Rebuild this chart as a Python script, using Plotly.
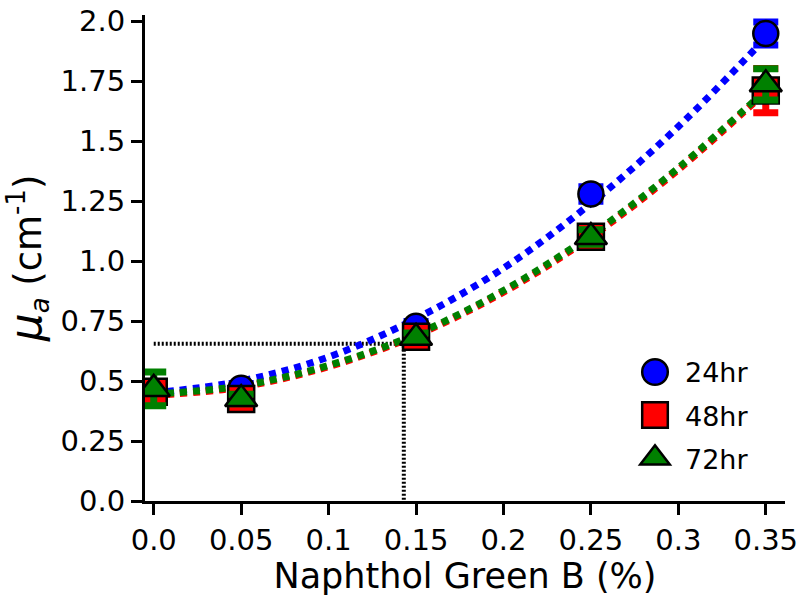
import plotly.graph_objects as go

# ---- data ----
conc = [0.0, 0.05, 0.15, 0.25, 0.35]
mua_24hr = [0.455, 0.47, 0.728, 1.279, 1.948]
mua_48hr = [0.455, 0.425, 0.684, 1.101, 1.71]
mua_72hr = [0.467, 0.425, 0.68, 1.10, 1.736]
err_24hr = [0.02, 0.02, 0.02, 0.03, 0.048]
err_48hr = [0.03, 0.02, 0.02, 0.03, 0.092]
err_72hr = [0.07, 0.02, 0.02, 0.03, 0.065]

fit_x = [0.0, 0.05, 0.10, 0.15, 0.20, 0.25, 0.30, 0.35]
fit_24hr = [0.45, 0.50, 0.60, 0.76, 0.97, 1.24, 1.56, 1.93]
fit_48hr = [0.44, 0.475, 0.56, 0.69, 0.87, 1.10, 1.38, 1.705]
fit_72hr = [0.445, 0.48, 0.565, 0.695, 0.877, 1.108, 1.388, 1.712]

ref_conc = 0.143
ref_mua = 0.655

x_tickvals = [0.0, 0.05, 0.10, 0.15, 0.20, 0.25, 0.30, 0.35]
x_ticktext = ["0.0", "0.05", "0.1", "0.15", "0.2", "0.25", "0.3", "0.35"]
y_tickvals = [0.0, 0.25, 0.5, 0.75, 1.0, 1.25, 1.5, 1.75, 2.0]
y_ticktext = ["0.0", "0.25", "0.5", "0.75", "1.0", "1.25", "1.5", "1.75", "2.0"]

series = [
    ("24hr", mua_24hr, err_24hr, fit_24hr, "#0000FF", "circle", 25),
    ("48hr", mua_48hr, err_48hr, fit_48hr, "#FF0000", "square", 26),
    ("72hr", mua_72hr, err_72hr, fit_72hr, "#008000", "triangle-up", 28),
]

FONT = "DejaVu Sans"
fig = go.Figure()

# reference dotted guide lines
fig.add_trace(go.Scatter(
    x=[0.0, ref_conc, ref_conc], y=[ref_mua, ref_mua, 0.0],
    mode="lines", line=dict(color="black", width=4, dash="2px,2px"),
    showlegend=False, hoverinfo="skip"))

# fit curves
for name, vals, errs, fit, col, sym, sz in series:
    fig.add_trace(go.Scatter(
        x=fit_x, y=fit, mode="lines",
        line=dict(color=col, width=7, dash="7px,6px", shape="spline"),
        showlegend=False, hoverinfo="skip"))

# data markers with error bars
for i, (name, vals, errs, fit, col, sym, sz) in enumerate(series):
    fig.add_trace(go.Scatter(
        x=conc, y=vals, mode="markers", name=name, legendgroup=name,
        marker=dict(color=col, symbol=sym, size=sz,
                    line=dict(color="black", width=2.5)),
        error_y=dict(type="data", array=errs, visible=True,
                     color=col, thickness=7, width=12.5)))

fig.update_layout(
    width=800, height=596,
    margin=dict(l=145, r=15, t=15, b=95, autoexpand=False),
    plot_bgcolor="white", paper_bgcolor="white",
    font=dict(family=FONT, color="black", size=29),
    showlegend=True,
    legend=dict(x=0.75, y=0.315, xanchor="left", yanchor="top",
                font=dict(size=27, family=FONT), bgcolor="rgba(0,0,0,0)",
                tracegroupgap=5, itemwidth=50),
    xaxis=dict(range=[-0.005, 0.361], tickvals=x_tickvals, ticktext=x_ticktext,
               automargin=False,
               showgrid=False, zeroline=False, showline=True, linecolor="black",
               linewidth=3, ticks="outside", ticklen=11, tickwidth=3,
               tickcolor="black", tickfont=dict(size=29, family=FONT),
               title=dict(text="Naphthol Green B (%)",
                          font=dict(size=35, family=FONT), standoff=4)),
    yaxis=dict(range=[0, 2.025], tickvals=y_tickvals, ticktext=y_ticktext,
               automargin=False,
               showgrid=False, zeroline=False, showline=True, linecolor="black",
               linewidth=3, ticks="outside", ticklen=11, tickwidth=3,
               tickcolor="black", tickfont=dict(size=29, family=FONT),
               title=dict(text="<i><span style='font-size:44px'>μ</span><sub>a</sub></i> (cm<sup>-1</sup>)",
                          font=dict(size=37, family=FONT), standoff=14)),
)

post_js = """
document.body.style.margin = '0';
document.body.style.padding = '0';
var gd = document.getElementById('{plot_id}');
function fixLegend(){
  var pts = gd.querySelectorAll('.legend .legendpoints path.scatterpts');
  pts.forEach(function(p){
    p.setAttribute('transform', 'translate(30,0) scale(1.6)');
    p.style.strokeWidth = (2.5/1.6) + 'px';
  });
}
fixLegend();
setTimeout(fixLegend, 0);
try { gd.on('plotly_afterplot', fixLegend); } catch(e) {}
"""

fig.write_html("out.html", post_script=post_js, config={"displayModeBar": False})
